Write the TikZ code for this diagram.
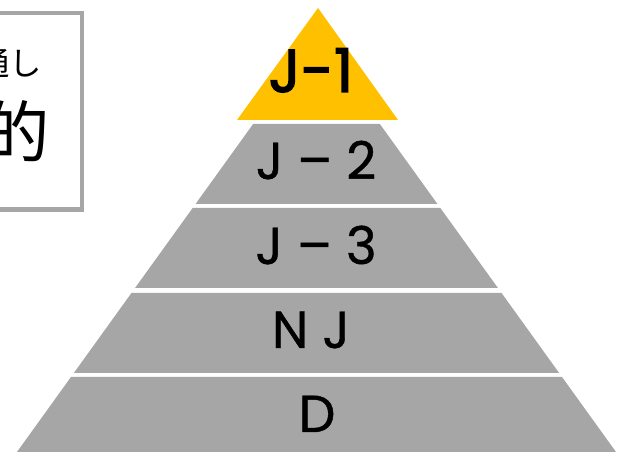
\documentclass[tikz,border=0pt]{standalone}
\usepackage{fontspec}
\setmainfont{Poppins}
\newfontfamily\layerfont[FakeBold=0.8]{Poppins}
\newfontfamily\tipfont[FakeBold=2.2]{Poppins}
\newfontfamily\jpfont{Noto Sans CJK JP}
\usepackage{xcolor}
\definecolor{tipYellow}{HTML}{FFC000}
\definecolor{layerGray}{HTML}{A6A6A6}
\begin{document}
\begin{tikzpicture}[x = 0.025cm, y = -0.025cm,
		layer/.style = {fill = layerGray, draw = none},
		layerText/.style = {anchor = base, inner sep = 0pt, font = \layerfont\fontsize{37}{40}\selectfont},
		jpText/.style = {anchor = east, inner sep = 0pt}]
			\def\cX{316.5};
			\def\yApex{36};
			\def\slope{0.72};

			\useasboundingbox (0,0) rectangle (627,452);
			\clip (0,0) rectangle (627,452);

			% note box, cut off at the left
			\begin{scope}
				\draw [layerGray, line width = 3.5pt] (-40,13) rectangle (82,209.5);
				\node [jpText, font = \jpfont\fontsize{23}{26}\selectfont] (noteA) at (42,63) {通し};
				\node [jpText, font = \jpfont\fontsize{48}{52}\selectfont] (noteB) at (50,131) {的};
			\end{scope}

			% top of the pyramid
			\begin{scope}
				\fill [tipYellow] (318,8) -- (237,120) -- (398,120) -- cycle;
				\node [anchor = base, inner sep = 0pt, font = \tipfont\fontsize{43}{46}\selectfont] (jOne) at (311,92) {J-1};
			\end{scope}

			% gray layers
			\begin{scope}
				\begin{scope}
					\fill [layer] ({\cX-\slope*(124-\yApex)},124) -- ({\cX+\slope*(124-\yApex)},124)
						-- ({\cX+\slope*(204-\yApex)},204) -- ({\cX-\slope*(204-\yApex)},204) -- cycle;
					\node [layerText] (jTwo) at (316,179) {J – 2};
				\end{scope}
				\begin{scope}
					\fill [layer] ({\cX-\slope*(208-\yApex)},208) -- ({\cX+\slope*(208-\yApex)},208)
						-- ({\cX+\slope*(288-\yApex)},288) -- ({\cX-\slope*(288-\yApex)},288) -- cycle;
					\node [layerText] (jThree) at (316,264) {J – 3};
				\end{scope}
				\begin{scope}
					\fill [layer] ({\cX-\slope*(293-\yApex)},293) -- ({\cX+\slope*(293-\yApex)},293)
						-- ({\cX+\slope*(373-\yApex)},373) -- ({\cX-\slope*(373-\yApex)},373) -- cycle;
					\node [layerText] (nJ) at (311,348) {N J};
				\end{scope}
				\begin{scope}
					\fill [layer] ({\cX-\slope*(377-\yApex)},377) -- ({\cX+\slope*(377-\yApex)},377)
						-- ({\cX+\slope*(457-\yApex)},457) -- ({\cX-\slope*(457-\yApex)},457) -- cycle;
					\node [layerText] (dLayer) at (317,432) {D};
				\end{scope}
			\end{scope}
		\end{tikzpicture}
\end{document}
